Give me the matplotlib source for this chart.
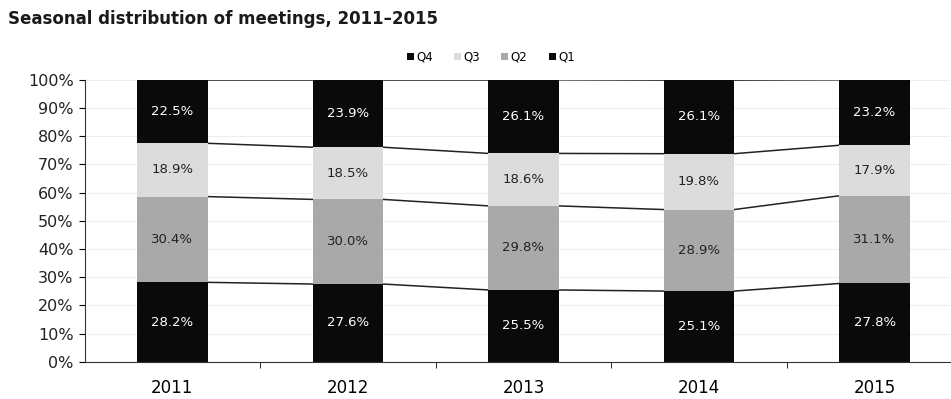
import numpy as np
import matplotlib.pyplot as plt
from matplotlib.ticker import PercentFormatter

years = ['2011', '2012', '2013', '2014', '2015']
q1 = [28.2, 27.6, 25.5, 25.1, 27.8]
q2 = [30.4, 30.0, 29.8, 28.9, 31.1]
q3 = [18.9, 18.5, 18.6, 19.8, 17.9]
q4 = [22.5, 23.9, 26.1, 26.1, 23.2]

series = [('Q1', q1, '#0a0a0a', 'white'),
          ('Q2', q2, '#a9a9a9', '#222222'),
          ('Q3', q3, '#dcdcdc', '#222222'),
          ('Q4', q4, '#0a0a0a', 'white')]

fig = plt.figure(figsize=(9.51, 3.99), dpi=100)
ax = fig.add_axes([0.089, 0.093, 0.91, 0.707])

x = np.arange(len(years))
w = 0.4
bottom = np.zeros(len(years))
handles = {}
for name, vals, col, tcol in series:
    vals = np.array(vals)
    b = ax.bar(x, vals, w, bottom=bottom, color=col, zorder=3, label=name)
    handles[name] = b
    for xi, v, b0 in zip(x, vals, bottom):
        ax.text(xi, b0 + v / 2, f'{v:.1f}%', ha='center', va='center',
                color=tcol, fontsize=9.5, zorder=4)
    top = bottom + vals
    # series lines between bar tops
    for i in range(len(x) - 1):
        ax.plot([x[i] + w / 2, x[i + 1] - w / 2], [top[i], top[i + 1]],
                color='#222222', lw=1.1, zorder=2)
    bottom = top

ax.set_xlim(-0.5, 4.43)
ax.set_ylim(0, 100)
ax.set_yticks(range(0, 101, 10))
ax.yaxis.set_major_formatter(PercentFormatter(decimals=0))
ax.set_xticks(x)
ax.set_xticklabels(years)
ax.set_xticks(np.arange(0.5, 4.4, 1), minor=True)
ax.tick_params(axis='x', which='major', length=0, pad=12, labelsize=12)
ax.tick_params(axis='x', which='minor', length=4, direction='out')
ax.tick_params(axis='y', length=4, labelsize=11.5, pad=4, labelcolor='#222222')
ax.grid(axis='y', color='#eeeeee', lw=0.8, zorder=0)
for s in ['top', 'right']:
    ax.spines[s].set_visible(False)
ax.spines['left'].set_color('#333333')
ax.spines['bottom'].set_color('#333333')

fig.text(0.008, 0.953, 'Seasonal distribution of meetings, 2011\u20132015',
         fontsize=12, fontweight='bold', ha='left', va='center', color='#1a1a1a')
order = ['Q4', 'Q3', 'Q2', 'Q1']
fig.legend([handles[k] for k in order], order, loc='center',
           bbox_to_anchor=(0.516, 0.857), ncol=4, frameon=False, fontsize=8.5,
           handlelength=0.6, handleheight=0.6, handletextpad=0.2, columnspacing=1.8)

fig.savefig('out.png', dpi=100)
